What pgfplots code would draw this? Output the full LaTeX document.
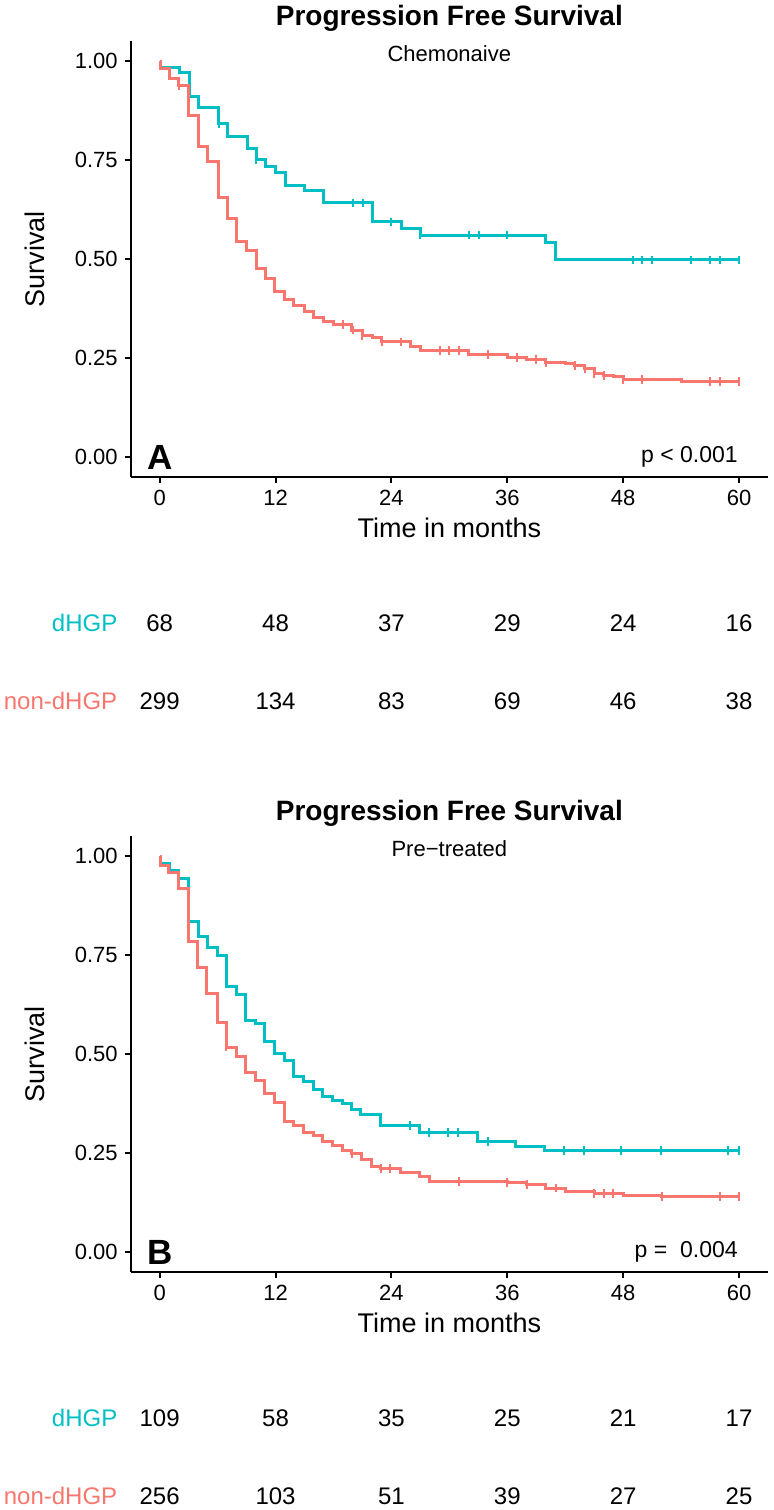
\documentclass[border=0pt]{standalone}
\usepackage{fontspec}
\setmainfont{Liberation Sans}
\usepackage{pgfplots}
\pgfplotsset{compat=1.18}

\definecolor{cteal}{HTML}{00BFC4}
\definecolor{cred}{HTML}{F8766D}

\newcommand{\fs}[1]{\fontsize{#1}{#1}\selectfont}

\pgfplotsset{
  km/.style={
    scale only axis, width=318.65bp, height=217.8bp,
    xmin=-3, xmax=63, ymin=-0.05, ymax=1.05,
    axis x line*=bottom, axis y line*=left,
    axis line style={-, line width=1bp},
    xtick={0,12,...,60}, ytick={0,0.25,0.5,0.75,1},
    yticklabel style={/pgf/number format/fixed, /pgf/number format/fixed zerofill, /pgf/number format/precision=2},
    /pgf/number format/assume math mode=true,
    tick align=outside, major tick length=3bp,
    tick style={line width=1bp, black},
    ticklabel style={font=\fs{11bp}},
    clip=false, anchor=south west,
  },
  surv/.style={const plot, line width=1.5bp, no marks},
  cens/.style={only marks, mark=|, mark size=2.2bp, mark options={line width=1bp}},
}
\tikzset{
  risk/.style={font=\fs{12bp}},
  grp/.style={font=\fs{12bp}, anchor=east, inner sep=0pt},
  ttl/.style={font=\fs{14bp}\bfseries, anchor=base, inner sep=0pt},
  sub/.style={font=\fs{11bp}, anchor=base, inner sep=0pt},
}

\begin{document}
\begin{tikzpicture}
\useasboundingbox (0,0) rectangle (387bp,755bp);

% ---------- A: chemonaive ----------
\begin{axis}[km, at={(65.35bp,516.5bp)}]
\addplot[surv, cteal] coordinates {
(0,1.000)(0.05,0.985)(2.07,0.971)(3.1,0.912)(4.04,0.882)(6.1,0.843)(7.0,0.809)
(9.1,0.780)(10.0,0.752)(10.95,0.735)(12.0,0.720)(13.0,0.687)(15.0,0.673)(17.0,0.642)
(22.0,0.594)(25.0,0.577)(27.0,0.561)(40.0,0.542)(41.0,0.498)(60.0,0.498)};
\addplot[cens, cteal] coordinates {
(6.1,0.843)(10.0,0.752)(20.0,0.642)(21.1,0.642)(24.0,0.594)(27.0,0.561)(32.0,0.561)
(33.1,0.561)(36.0,0.561)(49.0,0.498)(50.0,0.498)(51.0,0.498)(55.0,0.498)(57.0,0.498)
(58.0,0.498)(60.0,0.498)};
\addplot[surv, cred] coordinates {
(0,1.000)(0.05,0.981)(1.04,0.956)(2.0,0.939)(3.0,0.864)(4.04,0.785)(5.0,0.746)
(6.05,0.655)(7.0,0.604)(8.0,0.544)(9.0,0.521)(10.0,0.476)(11.0,0.450)(11.9,0.419)
(12.95,0.398)(13.9,0.384)(14.95,0.369)(15.96,0.354)(17.0,0.343)(17.96,0.336)
(19.9,0.321)(21.0,0.308)(22.0,0.302)(23.0,0.291)(26.0,0.279)(27.0,0.270)(32.0,0.260)
(36.0,0.252)(38.0,0.247)(40.0,0.240)(42.0,0.237)(43.0,0.232)(44.0,0.224)(45.0,0.211)
(46.0,0.207)(47.0,0.203)(48.0,0.196)(54.0,0.192)(60.0,0.192)};
\addplot[cens, cred] coordinates {
(2.0,0.939)(19.0,0.336)(20.0,0.321)(21.0,0.308)(23.0,0.291)(25.0,0.291)(29.0,0.270)
(30.0,0.270)(31.0,0.270)(34.0,0.260)(37.0,0.252)(39.0,0.247)(40.0,0.240)(43.0,0.232)
(44.0,0.224)(45.0,0.211)(46.0,0.207)(48.0,0.196)(50.0,0.196)(57.0,0.192)(58.0,0.192)
(60.0,0.192)};

\node[ttl] at (axis cs:30,1.091) {Progression Free Survival};
\node[sub] at (axis cs:30,1.0) {Chemonaive};
\node[font=\fs{13.5bp}, rotate=90] at (axis cs:-12.95,0.5) {Survival};
\node[font=\fs{13.5bp}] at (axis cs:30,-0.179) {Time in months};
\node[font=\fs{17.5bp}\bfseries] at (axis cs:0,0) {A};
\node[font=\fs{11.5bp}, anchor=east, inner sep=0pt] at (axis cs:59.9,0) {p < 0.001};

\node[grp, text=cteal] at (axis cs:-4.35,-0.419) {dHGP};
\node[grp, text=cred] at (axis cs:-4.35,-0.616) {non-dHGP};
\node[risk] at (axis cs:0,-0.419) {68};
\node[risk] at (axis cs:12,-0.419) {48};
\node[risk] at (axis cs:24,-0.419) {37};
\node[risk] at (axis cs:36,-0.419) {29};
\node[risk] at (axis cs:48,-0.419) {24};
\node[risk] at (axis cs:60,-0.419) {16};
\node[risk] at (axis cs:0,-0.616) {299};
\node[risk] at (axis cs:12,-0.616) {134};
\node[risk] at (axis cs:24,-0.616) {83};
\node[risk] at (axis cs:36,-0.616) {69};
\node[risk] at (axis cs:48,-0.616) {46};
\node[risk] at (axis cs:60,-0.616) {38};
\end{axis}

% ---------- B: pre-treated ----------
\begin{axis}[km, at={(65.35bp,119bp)}]
\addplot[surv, cteal] coordinates {
(0,1.000)(0.05,0.982)(0.97,0.965)(2.0,0.944)(3.0,0.834)(3.97,0.796)(4.94,0.769)
(5.94,0.750)(6.9,0.670)(7.95,0.651)(8.9,0.586)(9.9,0.578)(10.9,0.531)(11.9,0.503)
(12.9,0.485)(13.9,0.444)(14.9,0.430)(15.9,0.411)(16.9,0.392)(17.9,0.384)(18.9,0.375)
(19.9,0.360)(20.8,0.348)(22.9,0.320)(26.9,0.302)(32.9,0.279)(36.9,0.268)(39.9,0.256)
(60.0,0.256)};
\addplot[cens, cteal] coordinates {
(25.9,0.320)(27.9,0.302)(29.9,0.302)(30.9,0.302)(34.0,0.279)(41.9,0.256)(43.9,0.256)
(47.8,0.256)(51.9,0.256)(58.9,0.256)(60.0,0.256)};
\addplot[surv, cred] coordinates {
(0,1.000)(0.05,0.977)(0.9,0.958)(1.9,0.918)(2.94,0.784)(3.9,0.719)(4.9,0.653)
(5.94,0.579)(6.9,0.518)(7.95,0.493)(8.9,0.455)(9.9,0.434)(10.9,0.401)(11.9,0.378)
(12.9,0.330)(13.9,0.320)(14.9,0.302)(15.9,0.294)(16.9,0.280)(17.9,0.270)(18.9,0.258)
(19.9,0.249)(20.9,0.234)(21.9,0.216)(22.9,0.211)(24.9,0.200)(26.9,0.192)(27.9,0.178)
(36.0,0.175)(38.0,0.170)(40.0,0.162)(42.0,0.153)(45.0,0.148)(48.0,0.144)(52.0,0.140)
(60.0,0.140)};
\addplot[cens, cred] coordinates {
(6.9,0.518)(19.9,0.249)(22.9,0.211)(23.9,0.211)(31.0,0.178)(36.0,0.175)(38.0,0.170)
(41.0,0.162)(45.0,0.148)(46.0,0.148)(47.0,0.148)(52.0,0.140)(58.0,0.140)(60.0,0.140)};

\node[ttl] at (axis cs:30,1.091) {Progression Free Survival};
\node[sub] at (axis cs:30,1.0) {Pre\textminus treated};
\node[font=\fs{13.5bp}, rotate=90] at (axis cs:-12.95,0.5) {Survival};
\node[font=\fs{13.5bp}] at (axis cs:30,-0.179) {Time in months};
\node[font=\fs{17.5bp}\bfseries] at (axis cs:0,0) {B};
\node[font=\fs{11.5bp}, anchor=east, inner sep=0pt] at (axis cs:59.9,0) {p =\ \ 0.004};

\node[grp, text=cteal] at (axis cs:-4.35,-0.419) {dHGP};
\node[grp, text=cred] at (axis cs:-4.35,-0.616) {non-dHGP};
\node[risk] at (axis cs:0,-0.419) {109};
\node[risk] at (axis cs:12,-0.419) {58};
\node[risk] at (axis cs:24,-0.419) {35};
\node[risk] at (axis cs:36,-0.419) {25};
\node[risk] at (axis cs:48,-0.419) {21};
\node[risk] at (axis cs:60,-0.419) {17};
\node[risk] at (axis cs:0,-0.616) {256};
\node[risk] at (axis cs:12,-0.616) {103};
\node[risk] at (axis cs:24,-0.616) {51};
\node[risk] at (axis cs:36,-0.616) {39};
\node[risk] at (axis cs:48,-0.616) {27};
\node[risk] at (axis cs:60,-0.616) {25};
\end{axis}
\end{tikzpicture}
\end{document}
